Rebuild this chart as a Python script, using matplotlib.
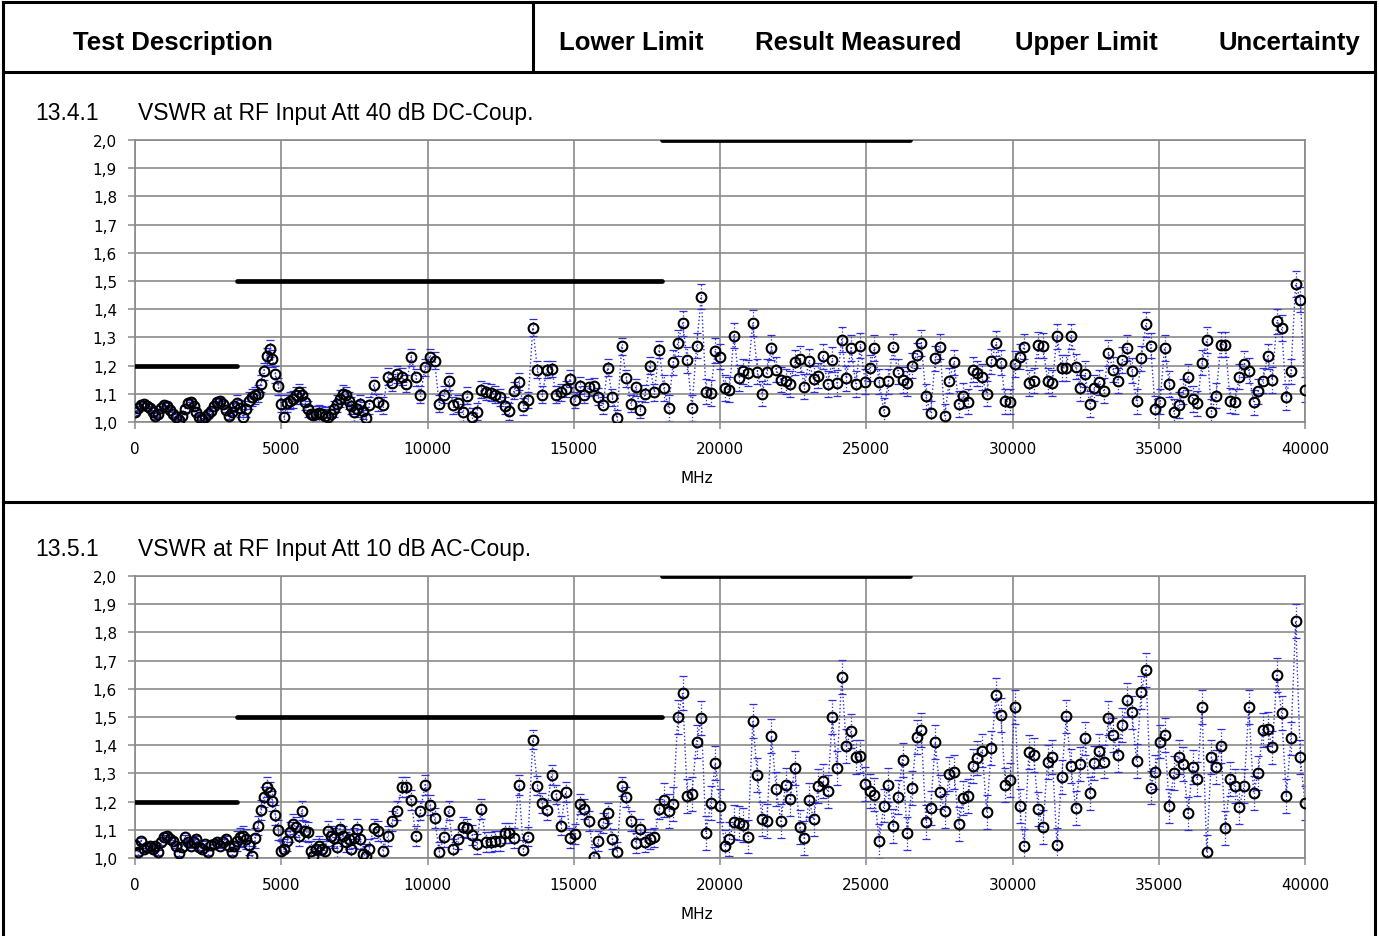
import numpy as np
import matplotlib
matplotlib.use("Agg")
import matplotlib.pyplot as plt
from matplotlib.ticker import FixedLocator, FuncFormatter

W, H = 1379, 937

# sweep grid: 100 MHz steps below 8 GHz, 160 MHz steps above
freq_low = np.arange(0, 8000, 100)
freq_high = np.arange(8000, 40001, 160)
freq = np.concatenate([freq_low, freq_high])

# 13.4.1  Att 40 dB, DC coupled
vswr_40db_low = [
    1.034, 1.048, 1.060, 1.064, 1.058, 1.048, 1.034, 1.022, 1.028, 1.048,
    1.060, 1.056, 1.044, 1.028, 1.017, 1.008, 1.022, 1.046, 1.067, 1.072,
    1.058, 1.034, 1.017, 1.011, 1.017, 1.028, 1.040, 1.058, 1.072, 1.076,
    1.064, 1.044, 1.022, 1.034, 1.058, 1.067, 1.048, 1.017, 1.046, 1.076,
    1.088, 1.094, 1.100, 1.135, 1.180, 1.233, 1.260, 1.224, 1.170, 1.127,
    1.064, 1.017, 1.067, 1.076, 1.080, 1.094, 1.105, 1.094, 1.072, 1.046,
    1.028, 1.025, 1.028, 1.032, 1.028, 1.022, 1.017, 1.028, 1.046, 1.064,
    1.082, 1.100, 1.094, 1.076, 1.058, 1.034, 1.046, 1.064, 1.040, 1.013,
]
vswr_40db_high = [
    1.060, 1.130, 1.070, 1.060, 1.160, 1.140, 1.170, 1.160, 1.135, 1.230,
    1.159, 1.097, 1.194, 1.230, 1.218, 1.064, 1.097, 1.144, 1.060, 1.067,
    1.034, 1.093, 1.019, 1.037, 1.115, 1.108, 1.103, 1.097, 1.088, 1.058,
    1.038, 1.111, 1.143, 1.056, 1.078, 1.335, 1.185, 1.097, 1.185, 1.188,
    1.097, 1.105, 1.117, 1.153, 1.078, 1.129, 1.097, 1.123, 1.127, 1.090,
    1.060, 1.192, 1.088, 1.013, 1.269, 1.155, 1.064, 1.123, 1.044, 1.100,
    1.200, 1.105, 1.256, 1.120, 1.049, 1.212, 1.280, 1.350, 1.220, 1.049,
    1.271, 1.445, 1.108, 1.103, 1.253, 1.232, 1.120, 1.115, 1.306, 1.156,
    1.180, 1.174, 1.351, 1.179, 1.100, 1.179, 1.264, 1.186, 1.150, 1.144,
    1.135, 1.212, 1.224, 1.125, 1.215, 1.152, 1.164, 1.233, 1.135, 1.221,
    1.138, 1.292, 1.155, 1.263, 1.135, 1.271, 1.143, 1.192, 1.262, 1.143,
    1.040, 1.144, 1.267, 1.179, 1.149, 1.137, 1.200, 1.236, 1.280, 1.091,
    1.031, 1.226, 1.267, 1.020, 1.147, 1.212, 1.064, 1.093, 1.072, 1.186,
    1.173, 1.159, 1.100, 1.215, 1.279, 1.210, 1.073, 1.072, 1.206, 1.232,
    1.267, 1.138, 1.147, 1.273, 1.271, 1.147, 1.138, 1.304, 1.192, 1.192,
    1.304, 1.196, 1.121, 1.170, 1.064, 1.120, 1.141, 1.111, 1.245, 1.186,
    1.147, 1.220, 1.263, 1.182, 1.073, 1.226, 1.346, 1.271, 1.046, 1.072,
    1.263, 1.135, 1.037, 1.060, 1.108, 1.159, 1.082, 1.066, 1.210, 1.291,
    1.037, 1.093, 1.274, 1.274, 1.076, 1.072, 1.161, 1.206, 1.182, 1.070,
    1.109, 1.147, 1.233, 1.149, 1.357, 1.334, 1.088, 1.180, 1.490, 1.434,
    1.115,
]

# 13.5.1  Att 10 dB, AC coupled
vswr_10db_low = [
    1.046, 1.022, 1.061, 1.032, 1.040, 1.044, 1.032, 1.044, 1.020, 1.056,
    1.073, 1.079, 1.066, 1.061, 1.044, 1.018, 1.038, 1.073, 1.056, 1.044,
    1.058, 1.067, 1.038, 1.032, 1.050, 1.020, 1.046, 1.050, 1.058, 1.044,
    1.056, 1.067, 1.041, 1.022, 1.044, 1.060, 1.073, 1.079, 1.067, 1.046,
    1.006, 1.070, 1.115, 1.170, 1.217, 1.253, 1.235, 1.203, 1.152, 1.100,
    1.026, 1.032, 1.059, 1.093, 1.121, 1.109, 1.079, 1.168, 1.097, 1.091,
    1.026, 1.008, 1.032, 1.044, 1.032, 1.026, 1.097, 1.079, 1.070, 1.038,
    1.103, 1.079, 1.056, 1.067, 1.032, 1.070, 1.103, 1.067, 1.014, 1.008,
]
vswr_10db_high = [
    1.032, 1.105, 1.097, 1.026, 1.079, 1.132, 1.168, 1.251, 1.251, 1.206,
    1.079, 1.168, 1.260, 1.188, 1.141, 1.022, 1.073, 1.168, 1.032, 1.067,
    1.111, 1.105, 1.082, 1.050, 1.174, 1.056, 1.056, 1.061, 1.061, 1.089,
    1.089, 1.070, 1.260, 1.030, 1.076, 1.420, 1.257, 1.194, 1.171, 1.294,
    1.225, 1.115, 1.233, 1.070, 1.085, 1.191, 1.174, 1.132, 1.005, 1.061,
    1.124, 1.160, 1.067, 1.022, 1.254, 1.217, 1.132, 1.053, 1.103, 1.058,
    1.067, 1.073, 1.174, 1.206, 1.168, 1.191, 1.501, 1.585, 1.221, 1.227,
    1.413, 1.496, 1.089, 1.194, 1.337, 1.186, 1.041, 1.067, 1.129, 1.123,
    1.117, 1.076, 1.485, 1.294, 1.138, 1.130, 1.434, 1.245, 1.130, 1.259,
    1.209, 1.319, 1.109, 1.070, 1.206, 1.138, 1.254, 1.272, 1.236, 1.499,
    1.319, 1.641, 1.398, 1.449, 1.357, 1.360, 1.262, 1.239, 1.225, 1.061,
    1.186, 1.259, 1.112, 1.215, 1.349, 1.087, 1.248, 1.428, 1.454, 1.129,
    1.177, 1.410, 1.235, 1.168, 1.298, 1.306, 1.121, 1.213, 1.219, 1.327,
    1.355, 1.381, 1.164, 1.390, 1.579, 1.507, 1.259, 1.276, 1.534, 1.183,
    1.044, 1.377, 1.365, 1.174, 1.111, 1.341, 1.357, 1.046, 1.286, 1.502,
    1.325, 1.177, 1.333, 1.424, 1.229, 1.336, 1.380, 1.342, 1.495, 1.436,
    1.366, 1.471, 1.560, 1.516, 1.345, 1.587, 1.667, 1.250, 1.306, 1.413,
    1.437, 1.183, 1.300, 1.359, 1.333, 1.158, 1.323, 1.280, 1.534, 1.020,
    1.357, 1.323, 1.398, 1.105, 1.280, 1.254, 1.182, 1.256, 1.534, 1.230,
    1.301, 1.455, 1.457, 1.392, 1.648, 1.514, 1.221, 1.424, 1.841, 1.357,
    1.194,
]

# measurement uncertainty per band (band edges in MHz)
unc_edges = [3500, 18000]
unc_40db = [0.010, 0.030, 0.045]
unc_10db = [0.010, 0.035, 0.060]

# upper VSWR limit segments
limit_start = [0, 3500, 18000]
limit_stop = [3500, 18000, 26500]
limit_vswr = [1.2, 1.5, 2.0]

header_labels = ["Test Description", "Lower Limit", "Result Measured",
                 "Upper Limit", "Uncertainty"]
panel_numbers = ["13.4.1", "13.5.1"]
panel_titles = ["VSWR at RF Input Att 40 dB DC-Coup.",
                "VSWR at RF Input Att 10 dB AC-Coup."]

BLUE = "#2f2fd8"
GRID = "#8a8a8a"

fig = plt.figure(figsize=(W / 100, H / 100), dpi=100)

# page layer in pixel coordinates for the table frame and texts
bg = fig.add_axes([0, 0, 1, 1])
bg.set_xlim(0, W)
bg.set_ylim(H, 0)
bg.axis("off")

for x0, y0, x1, y1 in [(3, 3, 1375, 3), (3, 73, 1375, 73), (3, 503, 1375, 503),
                       (3, 3, 3, H), (1375, 3, 1375, H), (533, 3, 533, 73)]:
    bg.plot([x0, x1], [y0, y1], color="black", lw=2.2, solid_capstyle="projecting")

hdr_font = dict(family=["Liberation Sans", "DejaVu Sans"], fontsize=18.5, fontweight="bold")
bg.text(73, 50, header_labels[0], ha="left", va="baseline", **hdr_font)
for xc, lab in zip([631, 858, 1086, 1289], header_labels[1:]):
    bg.text(xc, 50, lab, ha="center", va="baseline", **hdr_font)


def fmt_comma(v, pos):
    return f"{v:.1f}".replace(".", ",")


def draw_panel(top_px, number, title, vswr, unc):
    bottom_px = top_px + 282
    ax = fig.add_axes([135 / W, 1 - bottom_px / H, 1170 / W, 282 / H])
    band = np.searchsorted(unc_edges, freq, side="right")
    yerr = np.array(unc)[band]

    ax.plot(freq, vswr, ls=":", color=BLUE, lw=1.0, zorder=2)
    eb = ax.errorbar(freq, vswr, yerr=yerr, fmt="none", ecolor=BLUE,
                     elinewidth=0.9, capsize=3, capthick=0.9, zorder=2)
    eb[2][0].set_linestyle(":")
    for s, e, v in zip(limit_start, limit_stop, limit_vswr):
        ax.plot([s, e], [v, v], color="black", lw=3.4,
                solid_capstyle="round", zorder=3)
    ax.plot(freq, vswr, ls="none", marker="o", ms=7, mfc="none",
            mec="black", mew=1.5, zorder=4)

    ax.set_xlim(0, 40000)
    ax.set_ylim(1.0, 2.0)
    ax.xaxis.set_major_locator(FixedLocator(np.arange(0, 40001, 5000)))
    ax.yaxis.set_major_locator(FixedLocator(np.round(np.arange(1.0, 2.01, 0.1), 1)))
    ax.yaxis.set_major_formatter(FuncFormatter(fmt_comma))
    ax.grid(True, color=GRID, lw=1.2)
    ax.set_axisbelow(True)
    for sp in ax.spines.values():
        sp.set_color(GRID)
        sp.set_linewidth(1.2)
    ax.tick_params(axis="both", direction="out", length=5, width=1.1,
                   color=GRID, labelsize=11, pad=8)
    ax.tick_params(axis="x", pad=9)
    for lab in ax.get_xticklabels() + ax.get_yticklabels():
        lab.set_family("DejaVu Sans")

    title_font = dict(family=["Liberation Sans", "DejaVu Sans"], fontsize=16.5)
    bg.text(35, top_px - 21, number, ha="left", va="baseline", **title_font)
    bg.text(138, top_px - 21, title, ha="left", va="baseline", **title_font)
    bg.text(697, bottom_px + 56, "MHz", ha="center", va="center",
            family="DejaVu Sans", fontsize=11)


draw_panel(141, panel_numbers[0], panel_titles[0],
           vswr_40db_low + vswr_40db_high, unc_40db)
draw_panel(577, panel_numbers[1], panel_titles[1],
           vswr_10db_low + vswr_10db_high, unc_10db)

fig.savefig("out.png", dpi=100)
